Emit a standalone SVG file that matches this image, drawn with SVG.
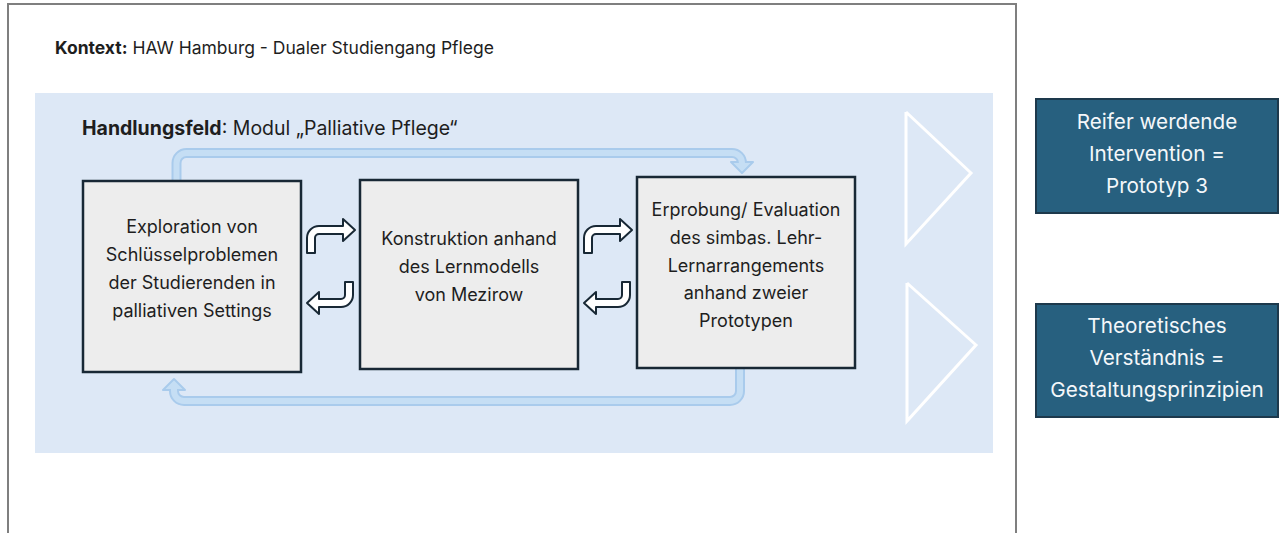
<svg xmlns="http://www.w3.org/2000/svg" width="1280" height="533" viewBox="0 0 1280 533">
<defs>
<style>
.t{font-family:Inter,"Open Sans","Liberation Sans",sans-serif;fill:#1e1e1e}
.bx{fill:#ededed;stroke:#182835;stroke-width:2.5}
.out{fill:#27607f;stroke:#1d394c;stroke-width:2}
.ot{font-family:Inter,"Open Sans","Liberation Sans",sans-serif;fill:#f4f7fa;font-size:20.7px;text-anchor:middle}
.bt{font-size:18px;text-anchor:middle}
.bend{fill:#ffffff;stroke:#182835;stroke-width:2;stroke-linejoin:round}
.bandO{fill:none;stroke:#a9cbec;stroke-width:10}
.bandI{fill:none;stroke:#c5def4;stroke-width:6}
.head{fill:#c5def4;stroke:#a9cbec;stroke-width:2;stroke-linejoin:round}
.tri{fill:none;stroke:#ffffff;stroke-width:3}
</style>
<path id="bendUp" class="bend" d="M307,253 V238 A12,12 0 0 1 319,226 H343 V219 L355,230 L343,241 V234 H319 A4,4 0 0 0 315,238 V253 Z"/>
<path id="bendDown" class="bend" d="M345,282 H353 V295 A12,12 0 0 1 341,307 H319 V314 L307,303 L319,292 V299 H341 A4,4 0 0 0 345,295 Z"/>
</defs>
<rect x="0" y="0" width="1280" height="533" fill="#ffffff"/>
<g id="frame">
<rect x="8" y="4" width="1008" height="600" fill="#ffffff" stroke="#7f7f7f" stroke-width="2"/>
<text class="t" x="55" y="54" font-size="17.5"><tspan font-weight="bold">Kontext:</tspan> HAW Hamburg - Dualer Studiengang Pflege</text>
</g>
<g id="handlungsfeld">
<rect x="35" y="93" width="958" height="360" fill="#dde8f6"/>
<text class="t" x="82" y="135" font-size="19.5"><tspan font-weight="bold">Handlungsfeld</tspan>: Modul „Palliative Pflege“</text>
<polyline class="tri" points="906,112 971,173 906,244 906,112"/>
<polyline class="tri" points="907,283 976,345 907,421 907,283"/>
</g>
<g id="connectors">
<path class="bandO" d="M176.5,182 V163 A10,10 0 0 1 186.5,153 H732 A10,10 0 0 1 742,163 V164"/>
<polygon class="head" points="731,162 753,162 742,173"/>
<path class="bandI" d="M176.5,182 V163 A10,10 0 0 1 186.5,153 H732 A10,10 0 0 1 742,163 V165"/>
<path class="bandO" d="M740,369 V391 A10,10 0 0 1 730,401 H184 A10,10 0 0 1 174,391 V390"/>
<polygon class="head" points="163,390 185,390 174,379"/>
<path class="bandI" d="M740,369 V391 A10,10 0 0 1 730,401 H184 A10,10 0 0 1 174,391 V389"/>
<use href="#bendUp"/>
<use href="#bendDown"/>
<use href="#bendUp" transform="translate(277,0)"/>
<use href="#bendDown" transform="translate(277,0)"/>
</g>
<g id="node-exploration">
<rect class="bx" x="83" y="181" width="218" height="191"/>
<text class="t bt" x="192" y="233">Exploration von</text>
<text class="t bt" x="192" y="261">Schlüsselproblemen</text>
<text class="t bt" x="192" y="289">der Studierenden in</text>
<text class="t bt" x="192" y="317">palliativen Settings</text>
</g>
<g id="node-konstruktion">
<rect class="bx" x="360" y="180" width="218" height="189"/>
<text class="t bt" x="469" y="245">Konstruktion anhand</text>
<text class="t bt" x="469" y="273">des Lernmodells</text>
<text class="t bt" x="469" y="301">von Mezirow</text>
</g>
<g id="node-erprobung">
<rect class="bx" x="637" y="177" width="218" height="191"/>
<text class="t bt" x="746" y="216">Erprobung/ Evaluation</text>
<text class="t bt" x="746" y="244">des simbas. Lehr-</text>
<text class="t bt" x="746" y="272">Lernarrangements</text>
<text class="t bt" x="746" y="299">anhand zweier</text>
<text class="t bt" x="746" y="327">Prototypen</text>
</g>
<g id="node-prototyp">
<rect class="out" x="1036" y="99" width="242" height="114"/>
<text class="ot" x="1157" y="129">Reifer werdende</text>
<text class="ot" x="1157" y="161">Intervention =</text>
<text class="ot" x="1157" y="193">Prototyp 3</text>
</g>
<g id="node-theorie">
<rect class="out" x="1036" y="304" width="242" height="113"/>
<text class="ot" x="1157" y="333">Theoretisches</text>
<text class="ot" x="1157" y="365">Verständnis =</text>
<text class="ot" x="1157" y="397">Gestaltungsprinzipien</text>
</g>
</svg>
